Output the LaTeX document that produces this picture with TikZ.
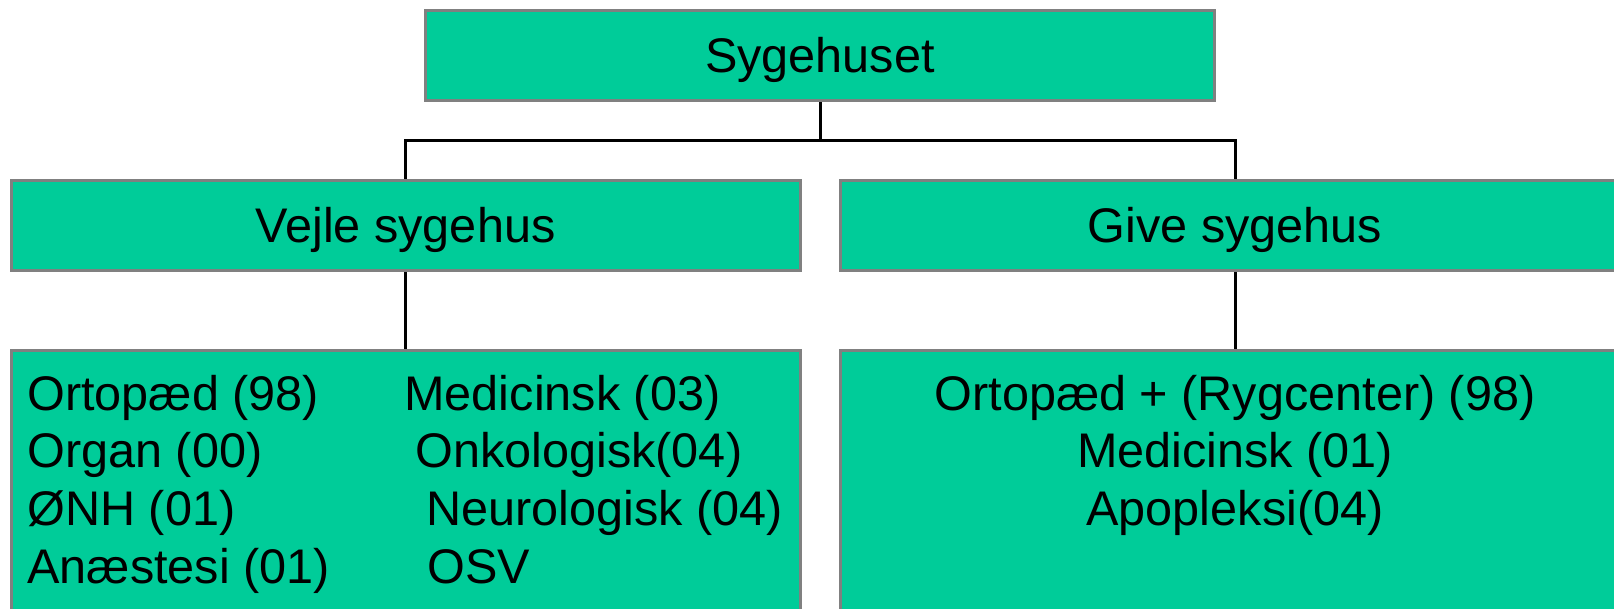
\documentclass[tikz,border=0pt]{standalone}
\usepackage{fontspec}
\setmainfont{Liberation Sans}
\definecolor{boxgreen}{HTML}{00CC99}
\definecolor{boxborder}{HTML}{808080}
\pgfdeclarelayer{background}
\pgfsetlayers{background,main}
\begin{document}
\begin{tikzpicture}[x=0.5pt,y=-0.5pt,
  txt/.style={font=\fontsize{24.3}{29}\selectfont},
  box/.style={draw=boxborder,fill=boxgreen,line width=1.5pt,minimum width=394.5pt,minimum height=45pt,
    inner sep=0pt,outer sep=0pt,text height=17.3pt,text depth=0pt,txt},
  deptbox/.style={box,minimum height=174.5pt},
  conn/.style={draw=black,line width=1.5pt},
  item/.style={anchor=base west,inner sep=0pt,txt},
  citem/.style={anchor=base,inner sep=0pt,txt}]
\useasboundingbox (0,0) rectangle (1614,609);
\clip (0,0) rectangle (1614,609);
\node[box] (top) at (820,55.5) {Sygehuset};
\node[box] (vejle) at (405.5,225.7) {Vejle sygehus};
\node[box] (give) at (1235,225.7) {Give sygehus};
\node[deptbox] (vejleDept) at (405.5,525.5) {};
\node[deptbox] (giveDept) at (1235,525.5) {};
\coordinate (bus) at (820,141);
\begin{pgfonlayer}{background}
\draw[conn] (top.south) -- (top.south |- bus);
\draw[conn] (vejle.north) -- (vejle.north |- bus) -| (give.north);
\draw[conn] (vejle.south) -- (vejleDept.north);
\draw[conn] (give.south) -- (giveDept.north);
\end{pgfonlayer}
% Vejle departments, left column
\node[item] (v1) at (27,410.5) {Ortopæd (98)};
\node[item] (v2) at (27,468) {Organ (00)};
\node[item] (v3) at (27,525.5) {ØNH (01)};
\node[item] (v4) at (27,583) {Anæstesi (01)};
% Vejle departments, right column
\node[item] (v5) at (404,410.5) {Medicinsk (03)};
\node[item] (v6) at (415,468) {Onkologisk(04)};
\node[item] (v7) at (426,525.5) {Neurologisk (04)};
\node[item] (v8) at (427,583) {OSV};
% Give departments
\node[citem] (g1) at (1235,410.5) {Ortopæd + (Rygcenter) (98)};
\node[citem] (g2) at (1235,468) {Medicinsk (01)};
\node[citem] (g3) at (1235,525.5) {Apopleksi(04)};
\end{tikzpicture}
\end{document}
